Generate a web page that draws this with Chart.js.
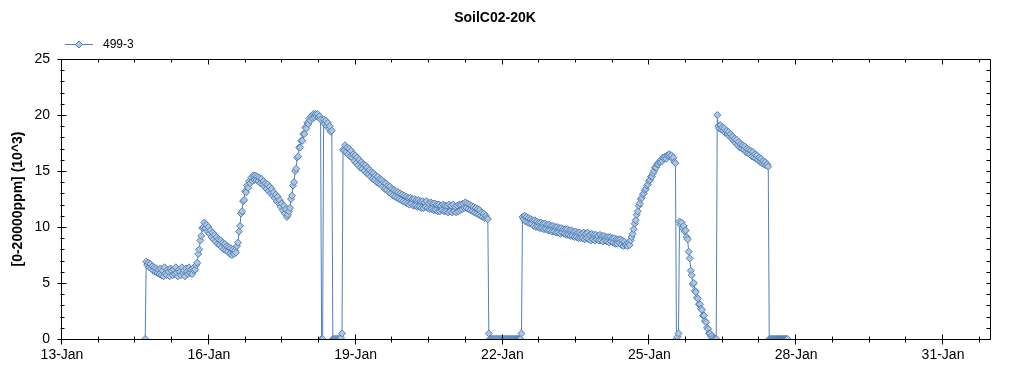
<!DOCTYPE html>
<html>
<head>
<meta charset="utf-8">
<title>SoilC02-20K</title>
<script src="https://cdn.jsdelivr.net/npm/chart.js@4.4.1/dist/chart.umd.min.js"></script>
<style>
  html, body { margin: 0; padding: 0; background: #fff; }
  #wrap { width: 1024px; height: 375px; }
</style>
</head>
<body>
<div id="wrap"><canvas id="co2Chart" width="1024" height="375"></canvas></div>
<script>
// Axis range (day of January) and labels
const xMin = 13;
const xMax = 31.96;
const xMinorStep = 0.75;
const tickDays = [13, 16, 19, 22, 25, 28, 31];
const tickLabels = ['13-Jan', '16-Jan', '19-Jan', '22-Jan', '25-Jan', '28-Jan', '31-Jan'];

// Series: half-hourly readings starting 14-Jan ~17:00
const seriesName = '499-3';
const sampleStart = 14.70;
const sampleStepDays = 1 / 48;
const co2Values = [
    0, 6.9, 6.6, 6.8, 6.4, 6.7, 6.3, 6.5, 6.1, 6.4, 6.0, 6.3, 5.9, 6.2, 5.8,
    6.3, 5.7, 6.1, 5.6, 6.4, 5.9, 5.7, 6.2, 6.0, 5.6, 6.3, 6.1, 5.7, 6.2, 5.8, 6.4, 5.9,
    5.6, 6.2, 6.0, 5.7, 6.4, 5.9, 6.1, 5.6, 6.3, 6.0, 5.8, 6.4, 5.9, 6.2, 5.8, 6.3, 6.1,
    6.2, 6.6, 6.8, 7.6, 8.0, 8.8, 9.2, 9.9, 10.0, 10.4, 9.9, 10.2,
    9.6, 10.0, 9.4, 9.7, 9.1, 9.5, 8.9, 9.3, 8.7, 9.1, 8.5, 8.9, 8.4, 8.8, 8.2, 8.6,
    8.0, 8.5, 7.9, 8.3, 7.8, 8.2, 7.6, 8.1, 7.5, 8.0, 7.6, 7.9,
    7.7, 8.3, 8.6, 9.6, 10.1, 11.2, 11.4, 12.3, 12.4, 13.2, 13.1, 13.7, 13.5, 14.1, 13.9,
    14.4, 14.1, 14.6, 14.2, 14.6, 14.2, 14.5,
    14.1, 14.4, 13.9, 14.3, 13.8, 14.1, 13.6, 13.9, 13.4, 13.8, 13.2, 13.6, 13.0, 13.4, 12.8,
    13.1, 12.6, 12.9, 12.3, 12.7, 12.1, 12.4, 11.8, 12.1, 11.5, 11.9, 11.2, 11.6, 10.9, 11.1,
    11.4, 11.7, 12.5, 12.8, 13.7, 14.0, 15.0, 15.2, 16.2, 16.3, 17.1, 17.1, 17.7, 17.7, 18.3, 18.3,
    18.9, 18.8, 19.3, 19.2, 19.7, 19.5, 19.9, 19.7, 20.1, 19.8, 20.1, 19.9, 20.1, 19.8, 19.9, 19.6,
    0, 0, 19.6, 19.2, 19.5, 19.0, 19.3, 18.8, 19.0, 18.5, 18.6,
    0, 0, 0, 0, 0, 0, 0, 0, 0.1, 0.5, 16.9,
    16.8, 17.3, 16.7, 17.1, 16.5, 17.0, 16.3, 16.8, 16.2, 16.5, 15.9, 16.4, 15.7, 16.2, 15.5, 16.0, 15.3, 15.8,
    15.2, 15.6, 15.0, 15.5, 14.8, 15.3, 14.7, 15.1, 14.5, 14.9, 14.3, 14.8, 14.2, 14.6, 14.0, 14.5, 13.9, 14.3,
    13.8, 14.2, 13.6, 14.0, 13.4, 13.9, 13.3, 13.7, 13.1, 13.6, 13.0, 13.4, 12.8, 13.3, 12.7, 13.2,
    12.6, 13.1, 12.5, 13.0, 12.4, 12.9, 12.3, 12.8, 12.2, 12.7, 12.1, 12.6, 12.0, 12.6, 12.1, 12.5,
    11.9, 12.5, 11.9, 12.4, 11.8, 12.4, 11.8, 12.3, 11.7, 12.3, 11.7, 12.2, 11.8, 12.3, 11.7, 12.1,
    11.6, 12.2, 11.6, 12.1, 11.5, 12.1, 11.5, 12.0, 11.4, 12.0, 11.4, 11.9, 11.5, 12.0, 11.4, 11.9,
    11.4, 11.9, 11.3, 12.0, 11.4, 11.9, 11.3, 12.0, 11.4, 11.8, 11.3, 11.9, 11.4, 12.0, 11.5, 12.0,
    11.6, 12.1, 11.7, 12.2, 11.7, 12.1, 11.6, 12.0, 11.5, 11.9, 11.4, 11.8, 11.3, 11.7, 11.2, 11.6,
    11.1, 11.5, 11.0, 11.3, 10.9, 11.2, 10.8, 11.0, 10.8, 10.7,
    0.5, 0, 0, 0, 0, 0, 0, 0, 0, 0, 0, 0, 0, 0, 0, 0, 0,
    0, 0, 0, 0, 0, 0, 0, 0, 0, 0, 0, 0, 0, 0, 0, 0.5,
    10.9, 10.7, 11.0, 10.5, 10.9, 10.4, 10.8, 10.3, 10.7, 10.3, 10.6, 10.1, 10.6, 10.0,
    10.5, 10.0, 10.4, 9.9, 10.4, 9.9, 10.3, 9.8, 10.3, 9.8, 10.2, 9.7, 10.2,
    9.7, 10.1, 9.6, 10.1, 9.6, 10.0, 9.5, 10.0, 9.5, 9.9, 9.4, 9.9, 9.5, 9.8, 9.4, 9.8,
    9.3, 9.8, 9.3, 9.7, 9.2, 9.7, 9.2, 9.6, 9.1, 9.6, 9.1, 9.5, 9.0, 9.5, 9.0, 9.4,
    9.0, 9.5, 8.9, 9.4, 9.0, 9.5, 8.9, 9.3, 8.8, 9.4, 8.9, 9.3, 8.8, 9.3, 8.9, 9.2, 8.8, 9.3,
    8.8, 9.2, 8.7, 9.2, 8.8, 9.1, 8.7, 9.1, 8.6, 9.1, 8.7, 9.0, 8.6, 9.0, 8.5, 8.9,
    8.5, 8.9, 8.6, 8.9, 8.4, 8.8, 8.3, 8.7, 8.4, 8.5, 8.3, 8.6, 8.4, 8.8, 9.1, 9.4, 9.8, 10.3,
    10.6, 11.1, 11.4, 11.9, 12.1, 12.5, 12.6, 12.9, 13.0, 13.3, 13.4, 13.7, 13.8, 14.1, 14.2, 14.5, 14.5, 14.8,
    15.0, 15.3, 15.3, 15.6, 15.6, 15.8, 15.8, 16.0, 15.9, 16.2, 16.1,
    16.3, 16.1, 16.4, 16.3, 16.5, 16.3, 16.4, 16.1, 16.2, 15.8, 15.7,
    0, 0.2, 0.5, 10.5,
    10.2, 10.4, 9.9, 10.1, 9.6, 9.7, 9.1, 8.9, 7.8, 7.2, 6.1, 5.7, 4.9, 5.0, 4.3, 4.2, 3.7,
    3.6, 3.1, 3.1, 2.7, 2.6, 2.1, 2.1, 1.6, 1.5, 1.0, 0.9, 0.5, 0.5, 0.2, 0.3, 0.1, 0,
    0, 0, 20.0,
    19.0, 18.8, 19.1, 18.7, 18.9, 18.6, 18.8, 18.4, 18.6, 18.3, 18.5, 18.1, 18.3, 17.9, 18.1, 17.7, 17.9,
    17.5, 17.8, 17.3, 17.6, 17.1, 17.4, 17.0, 17.3, 16.9, 17.2, 16.7, 17.0, 16.6, 16.9, 16.5, 16.8,
    16.3, 16.7, 16.2, 16.5, 16.1, 16.4, 16.0, 16.2, 15.8, 16.1, 15.7, 15.9, 15.6, 15.8, 15.5, 15.6, 15.4,
    0, 0, 0, 0, 0, 0, 0, 0, 0, 0, 0, 0, 0, 0, 0, 0, 0, 0, 0
];

const points = co2Values.map((v, i) => ({ x: sampleStart + i * sampleStepDays, y: v }));

const lineBlue = '#4F81BD';
const markerFill = '#B2C6DB';

// Legend icon: short line with a diamond in the middle
const legendIcon = document.createElement('canvas');
legendIcon.width = 32;
legendIcon.height = 10;
(function () {
    const c = legendIcon.getContext('2d');
    c.fillStyle = lineBlue;
    c.fillRect(0, 4, 28, 1);
    c.beginPath();
    c.moveTo(14, 1);
    c.lineTo(17.5, 4.5);
    c.lineTo(14, 8);
    c.lineTo(10.5, 4.5);
    c.closePath();
    c.fillStyle = markerFill;
    c.fill();
    c.strokeStyle = lineBlue;
    c.lineWidth = 1;
    c.stroke();
})();

// Frame with major/minor tick marks on all four sides
const axisFrame = {
    id: 'axisFrame',
    afterDatasetsDraw(chart) {
        const { ctx, chartArea: a, scales: { x, y } } = chart;
        const L = a.left - 0.5, R = a.right + 0.5, T = a.top + 0.5, B = a.bottom + 0.5;
        ctx.save();
        ctx.strokeStyle = '#000';
        ctx.lineWidth = 1;
        ctx.beginPath();
        ctx.rect(L, T, R - L, B - T);
        for (let d = xMin; d <= xMax + 1e-6; d += xMinorStep) {
            const px = Math.round(x.getPixelForValue(d)) - 0.5;
            const k = (d - xMin) / 3;
            const major = Math.abs(k - Math.round(k)) < 1e-6;
            const len = major ? 5 : 3;
            ctx.moveTo(px, B - len); ctx.lineTo(px, B + len);
            ctx.moveTo(px, T); ctx.lineTo(px, T + len);
        }
        for (let v = 0; v <= 25; v++) {
            const py = Math.round(y.getPixelForValue(v)) + 0.5;
            const major = v % 5 === 0;
            if (major) { ctx.moveTo(L - 4, py); ctx.lineTo(L + 5, py); }
            else { ctx.moveTo(L - 1, py); ctx.lineTo(L + 3, py); }
            ctx.moveTo(R - 4, py); ctx.lineTo(R, py);
        }
        ctx.stroke();
        ctx.restore();
    }
};

Chart.defaults.font.family = "'Liberation Sans', Arial, sans-serif";
Chart.defaults.color = '#000';

new Chart(document.getElementById('co2Chart'), {
    type: 'line',
    data: {
        datasets: [{
            label: seriesName,
            data: points,
            borderColor: lineBlue,
            borderWidth: 1,
            pointStyle: 'rectRot',
            pointRadius: 3.5,
            pointBorderColor: lineBlue,
            pointBackgroundColor: markerFill,
            pointBorderWidth: 1,
            tension: 0,
            fill: false
        }]
    },
    options: {
        responsive: false,
        animation: false,
        events: [],
        layout: { padding: { left: 0, right: 34, top: 0, bottom: 0 } },
        plugins: {
            title: {
                display: true,
                text: 'SoilC02-20K',
                color: '#000',
                font: { size: 14, weight: 'bold' },
                padding: { top: 10, bottom: 9.2 }
            },
            legend: {
                display: true,
                position: 'top',
                align: 'start',
                fullSize: false,
                maxHeight: 23,
                labels: {
                    usePointStyle: true,
                    pointStyle: legendIcon,
                    pointStyleWidth: 32,
                    padding: 3,
                    color: '#000',
                    font: { size: 12 }
                }
            },
            tooltip: { enabled: false }
        },
        scales: {
            x: {
                type: 'linear',
                min: xMin,
                max: xMax,
                afterBuildTicks: s => { s.ticks = tickDays.map(v => ({ value: v })); },
                afterFit: s => { s.height = 36; },
                grid: { display: false, drawTicks: false },
                border: { display: false },
                ticks: {
                    autoSkip: false,
                    maxRotation: 0,
                    padding: 8,
                    color: '#000',
                    font: { size: 14 },
                    callback: (v, i) => tickLabels[i]
                }
            },
            y: {
                min: 0,
                max: 25,
                afterFit: s => { s.width = 62; },
                grid: { display: false, drawTicks: false },
                border: { display: false },
                ticks: { stepSize: 5, padding: 12, color: '#000', font: { size: 14 } },
                title: {
                    display: true,
                    text: '[0-20000ppm] (10^3)',
                    color: '#000',
                    font: { size: 14, weight: 'bold' },
                    padding: { top: 10, bottom: 0 }
                }
            }
        }
    },
    plugins: [axisFrame]
});
</script>
</body>
</html>
